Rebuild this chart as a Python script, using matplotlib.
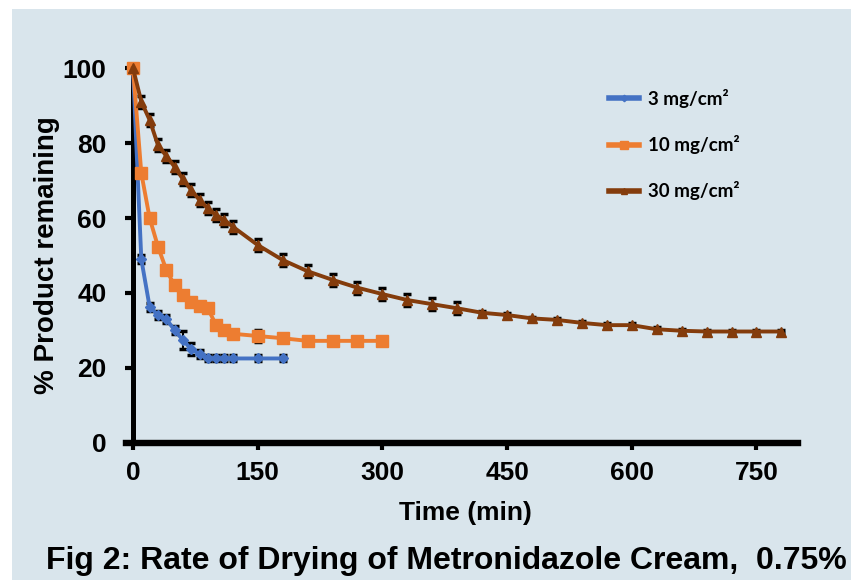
import matplotlib
matplotlib.use("Agg")
import matplotlib.pyplot as plt
from matplotlib import font_manager
from matplotlib.patches import Rectangle


def pick_family(candidates):
    for fam in candidates:
        try:
            font_manager.findfont(font_manager.FontProperties(family=fam),
                                  fallback_to_default=False)
            return fam
        except Exception:
            continue
    return "DejaVu Sans"


ARIAL = pick_family(["Liberation Sans", "DejaVu Sans"])
LEGEND_FONT = pick_family(["Lato", "Open Sans", "DejaVu Sans"])

# Drying data: % product remaining vs time (min)
time_3 = [0, 10, 20, 30, 40, 50, 60, 70, 80, 90, 100, 110, 120, 150, 180]
pct_3 = [100, 49, 36.3, 34.1, 33, 30.1, 27.4, 25, 23.7, 22.5, 22.5, 22.5, 22.5, 22.5, 22.5]
err_3 = [0, 1, 1, 1, 1, 1, 2.5, 1.5, 1, 0.8, 0.8, 0.8, 0.8, 0.8, 0.8]

time_10 = [0, 10, 20, 30, 40, 50, 60, 70, 80, 90, 100, 110, 120,
           150, 180, 210, 240, 270, 300]
pct_10 = [100, 72, 60, 52.4, 46.2, 42, 39.4, 37.6, 36.4, 35.9, 31.4, 30.2, 29.1,
          28.5, 27.9, 27.2, 27.2, 27.2, 27.2]
err_10 = [0, 1, 1, 1, 1, 1, 1, 1, 1, 1, 1, 1, 1, 1.5, 1, 0.8, 0.8, 0.8, 0.8]

time_30 = [0, 10, 20, 30, 40, 50, 60, 70, 80, 90, 100, 110, 120,
           150, 180, 210, 240, 270, 300, 330, 360, 390, 420, 450, 480,
           510, 540, 570, 600, 630, 660, 690, 720, 750, 780]
pct_30 = [100, 91.1, 86.2, 79.5, 76.6, 73.7, 70.4, 67.5, 64.8, 62.6, 60.8, 59.5, 57.7,
          52.8, 48.8, 45.8, 43.5, 41.4, 39.7, 38.1, 37, 35.9, 34.7, 34.1, 33.2,
          32.8, 32, 31.4, 31.4, 30.3, 29.9, 29.7, 29.7, 29.7, 29.7]
err_30 = [0, 1.6, 1.6, 1.6, 1.6, 1.6, 1.6, 1.6, 1.6, 1.6, 1.6, 1.6, 1.6,
          1.6, 1.6, 1.6, 1.6, 1.6, 1.6, 1.6, 1.6, 1.6, 0.5, 0.5, 0.5,
          0.5, 0.5, 0.5, 0.5, 0.5, 0.5, 0.5, 0.5, 0.5, 0.5]

labels = ["3 mg/cm\u00b2", "10 mg/cm\u00b2", "30 mg/cm\u00b2"]
x_ticks = [0, 150, 300, 450, 600, 750]
y_ticks = [0, 20, 40, 60, 80, 100]

BG = "#D9E5EC"
C_BLUE = "#4472C4"
C_ORANGE = "#ED7D31"
C_BROWN = "#843C0C"

fig = plt.figure(figsize=(8.51, 5.80), dpi=100, facecolor="white")
fig.patches.append(Rectangle((12 / 851, 0), 1 - 12 / 851, 1 - 9 / 580,
                             transform=fig.transFigure, facecolor=BG,
                             edgecolor="none", zorder=-10))

ax = fig.add_axes([133 / 851, 1 - 442.7 / 580, (798 - 133) / 851, (442.7 - 68.3) / 580])
ax.set_facecolor("none")

series = [
    (time_3, pct_3, err_3, C_BLUE, "D", 5.5),
    (time_10, pct_10, err_10, C_ORANGE, "s", 9),
    (time_30, pct_30, err_30, C_BROWN, "^", 7.5),
]
for (t, v, e, col, mk, ms), lab in zip(series, labels):
    ax.errorbar(t, v, yerr=e, fmt="none", ecolor="black", elinewidth=1.5,
                capsize=2.8, capthick=2.5, zorder=2)
    ax.plot(t, v, color=col, lw=2.8, marker=mk, ms=ms, mfc=col, mec=col,
            label=lab, zorder=3, clip_on=False)

ax.set_xlim(0, 800)
ax.set_ylim(0, 100)
ax.set_xticks(x_ticks)
ax.set_yticks(y_ticks)

for side in ("top", "right"):
    ax.spines[side].set_visible(False)
ax.spines["left"].set_linewidth(3.6)
ax.spines["bottom"].set_linewidth(4.6)
ax.spines["bottom"].set_bounds(-8, 800)
ax.tick_params(axis="y", direction="out", length=6, width=3, pad=13)
ax.tick_params(axis="x", direction="out", length=5, width=3, pad=8)

for lbl in ax.get_xticklabels() + ax.get_yticklabels():
    lbl.set_fontfamily(ARIAL)
    lbl.set_fontweight("bold")
    lbl.set_fontsize(19)

ax.set_xlabel("Time (min)", fontfamily=ARIAL, fontweight="bold", fontsize=19, labelpad=12)
ax.set_ylabel("% Product remaining", fontfamily=ARIAL, fontweight="bold", fontsize=20, labelpad=2)

leg = ax.legend(loc="upper left", bbox_to_anchor=(0.69, 0.99), frameon=False,
                prop={"family": LEGEND_FONT, "weight": "bold", "size": 13.5},
                handlelength=1.6, handletextpad=0.5, labelspacing=1.45,
                markerscale=0.6)
for h in leg.get_lines():
    h.set_linewidth(4)

fig.text(0.525, 0.032, "Fig 2: Rate of Drying of Metronidazole Cream,  0.75%",
         ha="center", va="center", fontfamily=ARIAL, fontweight="bold", fontsize=23)

fig.savefig("out.png", dpi=100, facecolor=fig.get_facecolor())
